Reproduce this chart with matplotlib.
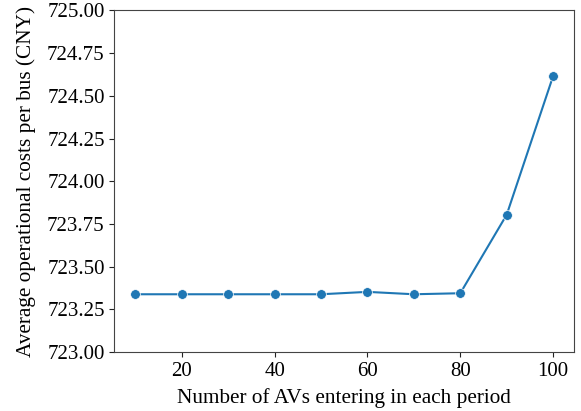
import matplotlib
matplotlib.use("Agg")
import matplotlib.pyplot as plt

plt.rcParams["font.family"] = ["Liberation Serif", "DejaVu Serif"]
plt.rcParams["mathtext.fontset"] = "stix"

# number of AVs entering per period and the resulting average cost per bus
av_counts = [10, 20, 30, 40, 50, 60, 70, 80, 90, 100]
avg_cost = [723.338, 723.338, 723.338, 723.338, 723.338, 723.352,
            723.338, 723.344, 723.804, 724.616]

fig = plt.figure(figsize=(5.81, 4.11), dpi=100)
ax = fig.add_axes([0.197, 0.1436, 0.791, 0.831])

ax.plot(av_counts, avg_cost, color="#1f77b4", linewidth=1.5,
        marker="o", markersize=7, markeredgecolor="white", markeredgewidth=0.5)

ax.set_ylim(723.0, 725.0)
ax.set_yticks([723.0, 723.25, 723.5, 723.75, 724.0, 724.25, 724.5, 724.75, 725.0])
ax.set_yticklabels(["%.2f" % v for v in ax.get_yticks()])
ax.set_xticks([20, 40, 60, 80, 100])

ax.tick_params(labelsize=15, colors="#222222")
ax.tick_params(axis="both", labelcolor="black")
for s in ax.spines.values():
    s.set_color("#444444")

ax.set_xlabel("Number of AVs entering in each period", fontsize=15.3, labelpad=5)
ax.set_ylabel("Average operational costs per bus (CNY)", fontsize=15.3, labelpad=8)

fig.savefig("out.png", dpi=100)
